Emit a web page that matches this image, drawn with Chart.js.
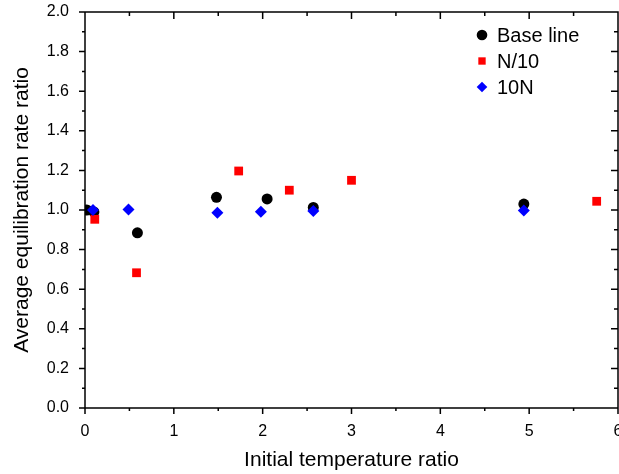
<!DOCTYPE html>
<html>
<head>
<meta charset="utf-8">
<script src="https://cdn.jsdelivr.net/npm/chart.js@4/dist/chart.umd.min.js"></script>
<style>
  html, body { margin: 0; padding: 0; background: #fff; overflow: hidden; }
  canvas { display: block; }
</style>
</head>
<body>
<canvas id="myChart" width="619" height="474"></canvas>
<script>
// values
const seriesNames = ['Base line', 'N/10', '10N'];

const baseLineX = [0.02, 0.10, 0.59, 1.48, 2.05, 2.57, 4.94];
const baseLineY = [1.00, 0.99, 0.885, 1.064, 1.056, 1.013, 1.03];

const tenthX = [0.11, 0.58, 1.73, 2.30, 3.00, 5.76];
const tenthY = [0.953, 0.683, 1.197, 1.10, 1.15, 1.044];

const tenTimesX = [0.09, 0.49, 1.49, 1.98, 2.57, 4.94];
const tenTimesY = [1.00, 1.003, 0.986, 0.991, 0.995, 0.997];

const xTickValues = [0, 1, 2, 3, 4, 5, 6];
const yTickValues = [0, 0.2, 0.4, 0.6, 0.8, 1.0, 1.2, 1.4, 1.6, 1.8, 2.0];

const xTitle = 'Initial temperature ratio';
const yTitle = 'Average equilibration rate ratio';

function toPoints(xs, ys) {
  return xs.map((x, i) => ({ x: x, y: ys[i] }));
}

Chart.defaults.font.family = "'Liberation Sans', Arial, sans-serif";
Chart.defaults.color = '#000';

// box round the plot, ticks in and out, minor ticks half way
const frame = {
  id: 'frame',
  beforeDatasetsDraw(chart) {
    const { ctx, chartArea: a, scales: { x, y } } = chart;
    ctx.save();
    ctx.strokeStyle = '#000';
    ctx.lineWidth = 1.5;
    ctx.beginPath();
    ctx.rect(a.left, a.top, a.right - a.left, a.bottom - a.top);

    const xs = [];
    xTickValues.forEach((v, i) => {
      xs.push([v, true]);
      if (i < xTickValues.length - 1) xs.push([(v + xTickValues[i + 1]) / 2, false]);
    });
    xs.forEach(([v, major]) => {
      const px = x.getPixelForValue(v);
      ctx.moveTo(px, a.bottom); ctx.lineTo(px, a.bottom + (major ? 6 : 3));
      ctx.moveTo(px, a.top); ctx.lineTo(px, a.top + (major ? 7 : 4));
    });

    const ys = [];
    yTickValues.forEach((v, i) => {
      ys.push([v, true]);
      if (i < yTickValues.length - 1) ys.push([(v + yTickValues[i + 1]) / 2, false]);
    });
    ys.forEach(([v, major]) => {
      const py = y.getPixelForValue(v);
      ctx.moveTo(a.left, py); ctx.lineTo(a.left - (major ? 6 : 3), py);
      ctx.moveTo(a.right, py); ctx.lineTo(a.right - (major ? 7 : 4), py);
    });
    ctx.stroke();
    ctx.restore();
  }
};

// legend inside the plot, top right
const insideLegend = {
  id: 'insideLegend',
  afterDatasetsDraw(chart) {
    const { ctx, chartArea: a } = chart;
    ctx.save();
    ctx.font = "20px 'Liberation Sans', Arial, sans-serif";
    ctx.textBaseline = 'middle';
    ctx.textAlign = 'left';
    chart.data.datasets.forEach((ds, i) => {
      const cy = a.top + 23 + i * 26;
      const cx = a.right - 136;
      ctx.fillStyle = ds.backgroundColor;
      ctx.strokeStyle = ds.borderColor;
      Chart.helpers.drawPoint(ctx, {
        pointStyle: ds.pointStyle,
        radius: ds.pointStyle === 'rect' ? 5.2 : 5.3,
        rotation: 0,
        borderWidth: 0
      }, cx, cy);
      ctx.fillStyle = '#000';
      ctx.fillText(ds.label, a.right - 121, cy + 1);
    });
    ctx.restore();
  }
};

const ctx = document.getElementById('myChart').getContext('2d');

new Chart(ctx, {
  type: 'scatter',
  data: {
    datasets: [
      {
        label: seriesNames[0],
        data: toPoints(baseLineX, baseLineY),
        pointStyle: 'circle',
        pointRadius: 5.5,
        backgroundColor: '#000000',
        borderColor: '#000000',
        borderWidth: 0,
        order: 3
      },
      {
        label: seriesNames[1],
        data: toPoints(tenthX, tenthY),
        pointStyle: 'rect',
        pointRadius: 6.2,
        backgroundColor: '#ff0000',
        borderColor: '#ff0000',
        borderWidth: 0,
        order: 2
      },
      {
        label: seriesNames[2],
        data: toPoints(tenTimesX, tenTimesY),
        pointStyle: 'rectRot',
        pointRadius: 6,
        backgroundColor: '#0000ff',
        borderColor: '#0000ff',
        borderWidth: 0,
        order: 1
      }
    ]
  },
  options: {
    responsive: false,
    animation: false,
    devicePixelRatio: 1,
    layout: { autoPadding: false, padding: { top: 12, right: 1, bottom: 0, left: 0 } },
    plugins: {
      legend: { display: false },
      tooltip: { enabled: false }
    },
    scales: {
      x: {
        type: 'linear',
        min: 0,
        max: 6,
        grid: { display: false, drawTicks: false },
        border: { display: false },
        afterBuildTicks: s => { s.ticks = xTickValues.map(v => ({ value: v })); },
        afterFit: s => { s.height = 66; s.paddingLeft = 0; s.paddingRight = 0; },
        ticks: {
          padding: 14,
          maxRotation: 0,
          font: { size: 16 },
          color: '#000',
          callback: v => String(v)
        },
        title: {
          display: true,
          text: xTitle,
          font: { size: 21 },
          color: '#000',
          padding: { top: 1, bottom: 1 }
        }
      },
      y: {
        type: 'linear',
        min: 0,
        max: 2,
        grid: { display: false, drawTicks: false },
        border: { display: false },
        afterBuildTicks: s => { s.ticks = yTickValues.map(v => ({ value: v })); },
        afterFit: s => { s.width = 85; s.paddingTop = 0; s.paddingBottom = 0; },
        ticks: {
          padding: 16,
          font: { size: 16 },
          color: '#000',
          callback: v => v.toFixed(1)
        },
        title: {
          display: true,
          text: yTitle,
          font: { size: 21 },
          color: '#000',
          padding: { top: 10, bottom: 10 }
        }
      }
    }
  },
  plugins: [frame, insideLegend]
});
</script>
</body>
</html>
